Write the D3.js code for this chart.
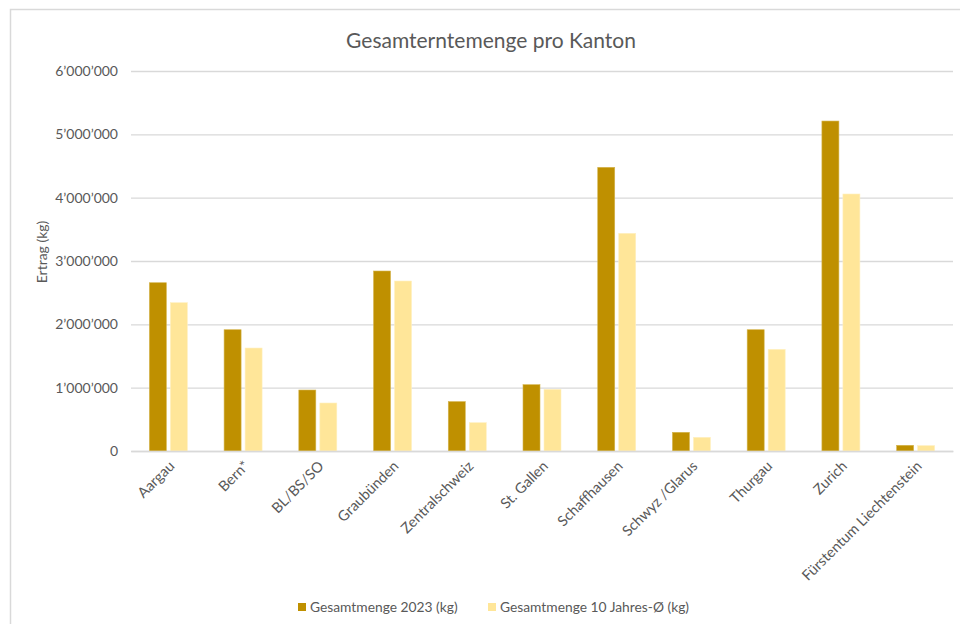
<!DOCTYPE html>
<html>
<head>
<meta charset="utf-8">
<script src="https://cdn.jsdelivr.net/npm/d3@7"></script>
<style>
  body { margin: 0; background: #fff; }
  text { font-family: Lato, "Open Sans", sans-serif; fill: #595959; }
</style>
</head>
<body>
<svg id="chart" width="960" height="624"></svg>
<script>
let kantone = ['Aargau', 'Bern*', 'BL/BS/SO', 'Graubünden', 'Zentralschweiz', 'St. Gallen',
	'Schaffhausen', 'Schwyz /Glarus', 'Thurgau', 'Zurich', 'Fürstentum Liechtenstein'];
let menge2023 = [2657000, 1915000, 963000, 2842000, 780000, 1047000, 4479000, 295000, 1915000, 5210000, 90000];
let menge10j = [2342000, 1626000, 758000, 2684000, 447000, 974000, 3437000, 216000, 1605000, 4058000, 85000];
let yTicks = [0, 1000000, 2000000, 3000000, 4000000, 5000000, 6000000];
let serien = ['Gesamtmenge 2023 (kg)', 'Gesamtmenge 10 Jahres-Ø (kg)'];
let farben = ['#BF9000', '#FFE699'];

let svg = d3.select('#chart');

// rahmen wie in excel
svg.append('rect')
	.attr('x', 10.5).attr('y', 9.5)
	.attr('width', 980).attr('height', 640)
	.attr('fill', 'none')
	.attr('stroke', '#d9d9d9')
	.attr('stroke-width', 1.5);

let m = { left: 131, right: 953, top: 71, bottom: 451 };

let x = d3.scaleBand()
	.domain(kantone)
	.range([m.left, m.right]);

let y = d3.scaleLinear()
	.domain([0, 6000000])
	.range([m.bottom, m.top]);

let fmt = v => d3.format(',')(v).replace(/,/g, '\u2019');

// gitterlinien
svg.append('g')
	.attr('transform', 'translate(' + m.left + ',0)')
	.call(d3.axisLeft(y).tickValues(yTicks).tickSize(-(m.right - m.left)).tickFormat(fmt).tickPadding(13))
	.call(g => g.select('.domain').remove())
	.call(g => g.selectAll('line').attr('stroke', '#d9d9d9').attr('stroke-width', 1.3))
	.call(g => g.selectAll('text').style('font-size', '14px').attr('fill', '#595959'));

let barW = 17, inner = 4;

let data = kantone.map((k, i) => ({ k: k, v: [menge2023[i], menge10j[i]] }));

data.forEach(function(d) {
	let cx = x(d.k) + x.bandwidth() / 2;
	d.v.forEach(function(v, j) {
		let bx = j === 0 ? cx - inner / 2 - barW : cx + inner / 2;
		svg.append('rect')
			.attr('x', bx)
			.attr('y', y(v))
			.attr('width', barW)
			.attr('height', y(0) - y(v))
			.attr('fill', farben[j])
			.attr('stroke', j === 0 ? '#d4b44d' : '#fff0c2')
			.attr('stroke-width', 0.6);
	});
});

// x-achse
svg.append('g')
	.attr('transform', 'translate(0,' + m.bottom + ')')
	.call(d3.axisBottom(x).tickSize(0).tickPadding(0))
	.call(g => g.select('.domain').attr('stroke', '#d9d9d9').attr('stroke-width', 1.3))
	.call(g => g.selectAll('text')
		.style('font-size', '14.5px')
		.attr('fill', '#595959')
		.attr('text-anchor', 'end')
		.attr('dy', 0)
		.attr('transform', 'translate(7,16) rotate(-45)'));

// titel
svg.append('text')
	.attr('x', 491).attr('y', 48)
	.attr('text-anchor', 'middle')
	.style('font-size', '21px')
	.text('Gesamterntemenge pro Kanton');

svg.append('text')
	.attr('transform', 'translate(47,252) rotate(-90)')
	.attr('text-anchor', 'middle')
	.style('font-size', '14px')
	.text('Ertrag (kg)');

// legende
let legX = [298, 488];
serien.forEach(function(s, i) {
	svg.append('rect')
		.attr('x', legX[i]).attr('y', 603)
		.attr('width', 8).attr('height', 8)
		.attr('fill', farben[i]);
	svg.append('text')
		.attr('x', legX[i] + 12).attr('y', 612)
		.style('font-size', '13.8px')
		.text(s);
});
</script>
</body>
</html>
